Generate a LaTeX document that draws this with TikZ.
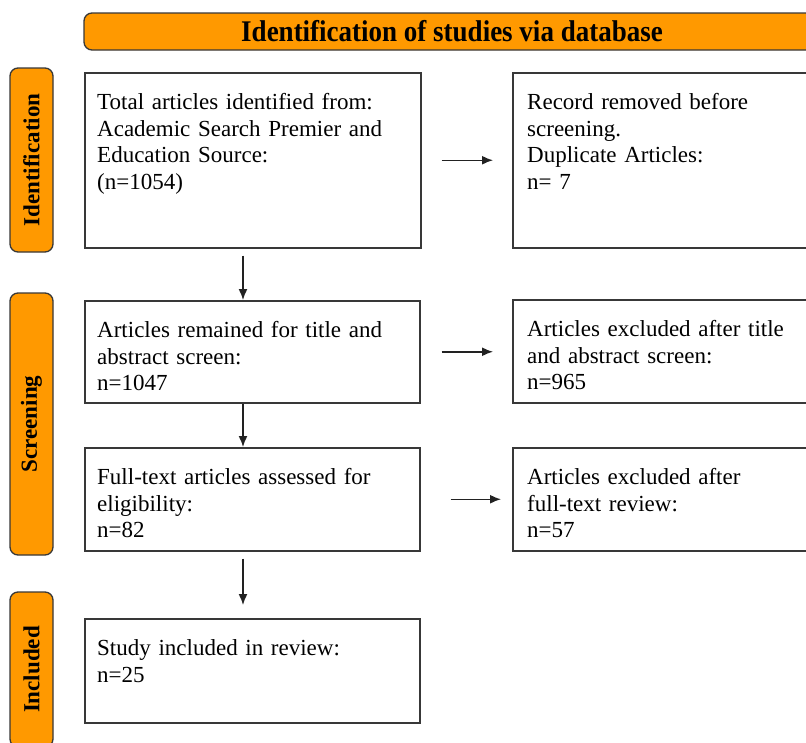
\documentclass[tikz,border=0pt]{standalone}
\usepackage{fontspec}
\setmainfont{Liberation Serif}
\usetikzlibrary{arrows.meta}
\definecolor{prisorange}{HTML}{FF9900}
\definecolor{edgegray}{HTML}{383838}
\definecolor{arrowgray}{HTML}{222222}
\tikzset{
  flowbox/.style={draw=edgegray, line width=1.5pt, rectangle, inner sep=0pt, anchor=north west},
  flowtext/.style={anchor=base west, inner sep=0pt, align=left, text width=330pt,
    font=\fontsize{23}{26.5}\selectfont, text=black},
  phaselabel/.style={draw=edgegray, fill=prisorange, line width=1.3pt, rounded corners=8pt,
    rectangle, inner sep=0pt, rotate=90, minimum height=43pt,
    font=\fontsize{23}{26}\selectfont\bfseries},
  banner/.style={draw=edgegray, fill=prisorange, line width=1.3pt, rounded corners=8pt,
    rectangle, inner sep=0pt, minimum height=37pt, minimum width=736pt,
    font=\fontsize{30}{32}\selectfont\bfseries},
  arr/.style={draw=arrowgray, line width=1.5pt, -{Latex[length=11pt,width=9pt]}}
}
\begin{document}
\begin{tikzpicture}[x=1pt,y=-1pt]
\useasboundingbox (0,0) rectangle (806,742);
\fill[white] (0,0) rectangle (806,742);
\clip (0,0) rectangle (806,742);

% banner
\node[banner] (title) at (452,31.5) {\scalebox{0.9}[1]{Identification of studies via database}};

% phase labels
\node[phaselabel, minimum width=184pt] (pid) at (31.5,160) {Identification};
\node[phaselabel, minimum width=262pt] (psc) at (31.5,424) {Screening};
\node[phaselabel, minimum width=155pt] (pin) at (31.5,669.5) {Included};

% boxes
\node[flowbox, minimum width=336pt, minimum height=175pt] (b1) at (84,72) {};
\node[flowbox, minimum width=320pt, minimum height=175pt] (b2) at (512,72) {};
\node[flowbox, minimum width=335pt, minimum height=102pt] (b3) at (84,300) {};
\node[flowbox, minimum width=320pt, minimum height=103pt] (b4) at (512,299) {};
\node[flowbox, minimum width=335pt, minimum height=103pt] (b5) at (84,447) {};
\node[flowbox, minimum width=320pt, minimum height=103pt] (b6) at (512,447) {};
\node[flowbox, minimum width=335pt, minimum height=104pt] (b7) at (84,618) {};

% texts
\node[flowtext] (t1) at ([shift={(13pt,-37.5pt)}]b1.north west)
  {Total articles identified from:\\Academic Search Premier and\\Education Source:\\(n=1054)};
\node[flowtext] (t2) at ([shift={(15pt,-37.5pt)}]b2.north west)
  {Record removed before\\screening.\\Duplicate Articles:\\n= 7};
\node[flowtext] (t3) at ([shift={(13pt,-37.5pt)}]b3.north west)
  {Articles remained for title and\\abstract screen:\\n=1047};
\node[flowtext] (t4) at ([shift={(15pt,-37.5pt)}]b4.north west)
  {Articles excluded after title\\and abstract screen:\\n=965};
\node[flowtext] (t5) at ([shift={(13pt,-37.5pt)}]b5.north west)
  {Full-text articles assessed for\\eligibility:\\n=82};
\node[flowtext] (t6) at ([shift={(15pt,-37.5pt)}]b6.north west)
  {Articles excluded after\\full-text review:\\n=57};
\node[flowtext] (t7) at ([shift={(13pt,-37.5pt)}]b7.north west)
  {Study included in review:\\n=25};

% horizontal connectors
\draw[arr, shorten <=20pt, shorten >=19pt] (b1.east) -- (b1.east -| b2.west);
\draw[arr, shorten <=21pt, shorten >=19pt] (b3.east) -- (b3.east -| b4.west);
\draw[arr, shorten <=30pt, shorten >=11pt] (b5.east) -- (b5.east -| b6.west);

% vertical connectors
\draw[arr, shorten <=7pt] ([xshift=159pt]b1.south west) -- ([xshift=159pt]b1.south west |- b3.north);
\draw[arr] ([xshift=159pt]b3.south west) -- ([xshift=159pt]b3.south west |- b5.north);
\draw[arr, shorten <=7pt, shorten >=13pt] ([xshift=159pt]b5.south west) -- ([xshift=159pt]b5.south west |- b7.north);
\end{tikzpicture}
\end{document}
